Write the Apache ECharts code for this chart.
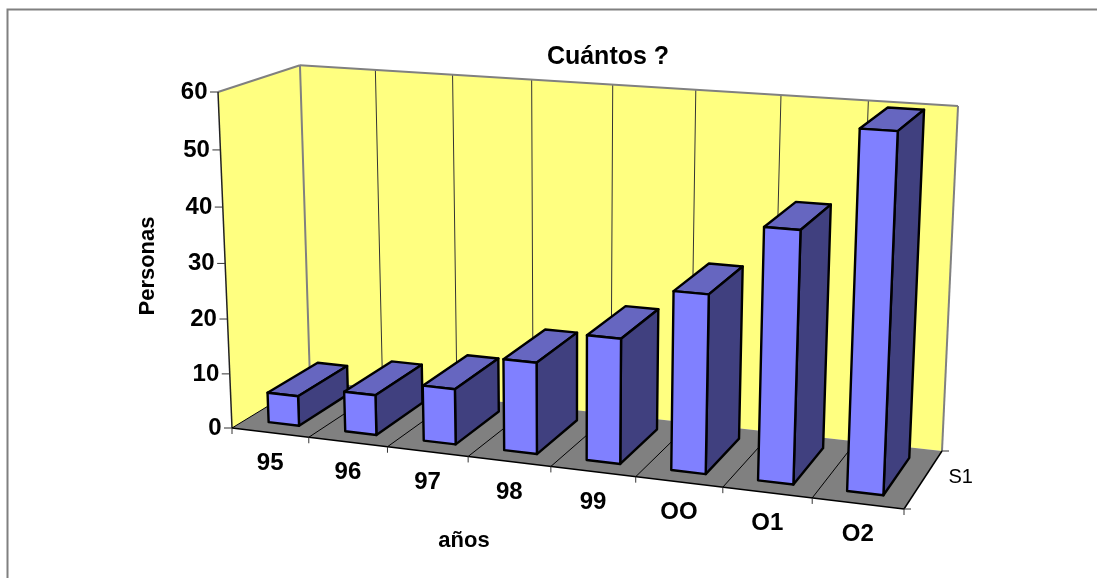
<!DOCTYPE html>
<html>
<head>
<meta charset="utf-8">
<style>html,body{margin:0;padding:0;background:#fff}#chart{width:1097px;height:578px}</style>
<script src="https://cdn.jsdelivr.net/npm/echarts@6/dist/echarts.min.js"></script>
</head>
<body>
<div id="chart"></div>
<script>
// Data
var years = ['95', '96', '97', '98', '99', 'OO', 'O1', 'O2'];
var personas = [5.5, 7.3, 10, 16.3, 22, 31, 43, 60];
var valueTicks = [0, 10, 20, 30, 40, 50, 60];
var seriesName = 'S1';

// Box corners of the plot on screen: [x, y]
var P000 = [232, 428];    // front, left, floor
var P100 = [904, 509];    // front, right, floor
var P010 = [310, 380.5];  // back, left, floor
var P110 = [942, 451];    // back, right, floor
var P001 = [218, 92];     // front, left, top
var VANISH_Y = 8500;      // screen height where the verticals converge

// Share of a category band and of the depth taken by a bar
var BAR_U = [0.3, 0.7];
var BAR_D = [0.17, 0.82];

// Perspective camera: p(u,d,w) = H0 + u(Hu-H0) + d(Hd-H0) + w(Hw-H0), homogeneous
function floorScales() {
  var t = P110, a = P100, b = P010, o = P000;
  var det = (a[0] - t[0]) * (b[1] - t[1]) - (a[1] - t[1]) * (b[0] - t[0]);
  var rx = o[0] - t[0], ry = o[1] - t[1];
  return [
    (rx * (b[1] - t[1]) - ry * (b[0] - t[0])) / det,
    ((a[0] - t[0]) * ry - (a[1] - t[1]) * rx) / det
  ];
}
var st = floorScales();
var au = st[0], ad = st[1];
var aw = (P000[1] - VANISH_Y) / (P001[1] - VANISH_Y);
function project(u, d, w) {
  var X = P000[0] + u * (au * P100[0] - P000[0]) + d * (ad * P010[0] - P000[0]) + w * (aw * P001[0] - P000[0]);
  var Y = P000[1] + u * (au * P100[1] - P000[1]) + d * (ad * P010[1] - P000[1]) + w * (aw * P001[1] - P000[1]);
  var H = 1 + u * (au - 1) + d * (ad - 1) + w * (aw - 1);
  return [X / H, Y / H];
}

// The hidden grid supplies the scales; its pixels become unit-cube coordinates
var GRID = { left: 100, top: 100, width: 800, height: 300 };
function uOf(x) { return (x - GRID.left) / GRID.width; }
function wOf(y) { return (GRID.top + GRID.height - y) / GRID.height; }

var FONT = '"Liberation Sans", Arial, sans-serif';
var EDGE = { stroke: '#000', lineWidth: 2.4, lineJoin: 'round' };

function poly(points, fill, style) {
  return { type: 'polygon', shape: { points: points }, style: Object.assign({ fill: fill }, style || EDGE) };
}
function seg(a, b, stroke, width) {
  return { type: 'line', shape: { x1: a[0], y1: a[1], x2: b[0], y2: b[1] }, style: { stroke: stroke, lineWidth: width } };
}
function txt(x, y, text, size, weight, align) {
  return { type: 'text', x: x, y: y, style: { text: text, fill: '#000', font: weight + ' ' + size + 'px ' + FONT, align: align || 'center', verticalAlign: 'middle' } };
}

// Walls, floor, gridlines, ticks and their labels
function renderBox(params, api) {
  var n = years.length, kids = [];
  var A = project(0, 0, 0), B = project(1, 0, 0), C = project(1, 1, 0), D = project(0, 1, 0);
  var At = project(0, 0, 1), Ct = project(1, 1, 1), Dt = project(0, 1, 1);
  var none = { stroke: null };
  kids.push(poly([A, D, Dt, At], '#FFFF80', none));
  kids.push(poly([D, C, Ct, Dt], '#FFFF80', none));
  kids.push(poly([A, B, C, D], '#808080', none));
  for (var i = 1; i < n; i++) {
    var u = i / n;
    kids.push(seg(project(u, 1, 0), project(u, 1, 1), '#333', 1));
    kids.push(seg(project(u, 0, 0), project(u, 1, 0), '#000', 1));
  }
  // Grey outline of the walls
  kids.push(seg(At, Dt, '#808080', 2));
  kids.push(seg(Dt, Ct, '#808080', 2));
  kids.push(seg(Dt, D, '#808080', 2));
  kids.push(seg(Ct, C, '#808080', 2));
  kids.push(seg(A, At, '#222', 1.5));
  kids.push(seg(A, B, '#000', 1.5));
  kids.push(seg(B, C, '#000', 1.5));
  kids.push(seg(A, D, '#000', 1));
  // Category ticks and labels
  for (var j = 0; j <= n; j++) {
    var t = project(j / n, 0, 0);
    kids.push(seg(t, [t[0], t[1] + 6], '#333', 1));
  }
  years.forEach(function (y, k) {
    var c = project((k + 0.5) / n, 0, 0);
    kids.push(txt(c[0], c[1] + 30.5, y, 24, 'bold'));
  });
  // Value ticks and labels
  var top = valueTicks[valueTicks.length - 1];
  valueTicks.forEach(function (v) {
    var p = project(0, 0, v / top);
    kids.push(seg(p, [p[0] - 8, p[1]], '#333', 1));
    kids.push(txt(p[0] - 10.5, p[1], String(v), 24, 'bold', 'right'));
  });
  // Series tick and label along the depth axis
  var f = project(1, 0, 0), b = project(1, 1, 0);
  kids.push(seg(b, [b[0] + 7, b[1]], '#333', 1));
  kids.push(seg(f, [f[0] + 7, f[1]], '#333', 1));
  var mid = project(1, 0.5, 0);
  kids.push(txt(mid[0] + 37, mid[1] - 1, seriesName, 20, 'normal'));
  return { type: 'group', children: kids };
}

// One solid bar, projected through the value and category scales
function renderBar(params, api) {
  var pos = api.coord([api.value(0), api.value(1)]);
  var band = api.size([1, 0])[0];
  var uL = uOf(pos[0] - band / 2 + BAR_U[0] * band);
  var uR = uOf(pos[0] - band / 2 + BAR_U[1] * band);
  var w = wOf(pos[1]);
  var d0 = BAR_D[0], d1 = BAR_D[1];
  var f0 = project(uL, d0, 0), f1 = project(uR, d0, 0);
  var f2 = project(uR, d0, w), f3 = project(uL, d0, w);
  var b1 = project(uR, d1, 0), b2 = project(uR, d1, w), b3 = project(uL, d1, w);
  return {
    type: 'group',
    children: [
      poly([f3, f2, b2, b3], '#6666C0'),
      poly([f1, b1, b2, f2], '#40407F'),
      poly([f0, f1, f2, f3], '#8080FF')
    ]
  };
}

var chart = echarts.init(document.getElementById('chart'), null, { renderer: 'canvas' });
chart.setOption({
  animation: false,
  backgroundColor: '#fff',
  title: {
    text: 'Cuántos ?', left: 603, top: 40, textAlign: 'center',
    textStyle: { fontFamily: FONT, fontSize: 25, fontWeight: 'bold', color: '#000' }
  },
  graphic: [
    { type: 'polyline', silent: true,
      shape: { points: [[7.5, 578], [7.5, 9.5], [1097, 9.5]] },
      style: { fill: null, stroke: '#808080', lineWidth: 2 } },
    { type: 'text', x: 148, y: 266, rotation: Math.PI / 2, silent: true,
      style: { text: 'Personas', font: 'bold 22px ' + FONT, fill: '#000', align: 'center', verticalAlign: 'middle' } },
    { type: 'text', x: 464, y: 541, silent: true,
      style: { text: 'años', font: 'bold 22px ' + FONT, fill: '#000', align: 'center', verticalAlign: 'middle' } }
  ],
  grid: GRID,
  xAxis: { type: 'category', data: years, show: false },
  yAxis: { type: 'value', min: 0, max: 60, interval: 10, show: false },
  series: [
    { type: 'custom', name: 'box', renderItem: renderBox, data: [[0, 0]], silent: true, clip: false, z: 1,
      encode: { x: 0, y: 1 } },
    { type: 'custom', name: seriesName, renderItem: renderBar, clip: false, z: 2,
      encode: { x: 0, y: 1 },
      data: personas.map(function (v, i) { return [i, v]; }) }
  ]
});
</script>
</body>
</html>
